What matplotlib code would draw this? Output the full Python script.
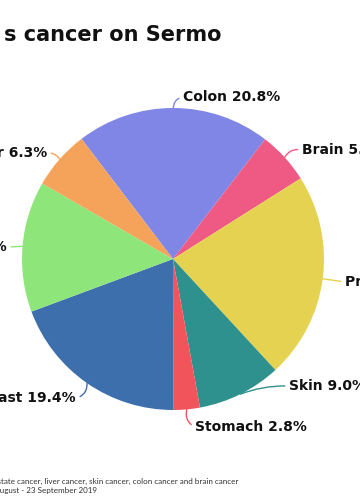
#!/usr/bin/env python
# -*- coding: utf8

from matplotlib import pyplot as plt
from matplotlib import rc

import numpy as np

cancers = ['Colon', 'Brain', 'Prostate', 'Skin', 'Stomach', 'Breast', 'Lung', 'Liver']
shares = [20.8, 5.6, 22.1, 9.0, 2.8, 19.4, 14.0, 6.3]
colors = ['#7f86e6', '#ee5a84', '#e4d250', '#2e918d', '#f2545b', '#3e6fad', '#8ee67a', '#f5a35a']

# where each label sits (pie radius units) and how it is aligned
label_pos = [(0.066, 1.073), (0.854, 0.722), (1.139, -0.152), (0.768, -0.841),
             (0.146, -1.113), (-0.642, -0.921), (-1.099, 0.079), (-0.834, 0.702)]
label_ha = ['left', 'left', 'left', 'left', 'left', 'right', 'right', 'right']
label_rad = [0.4, 0.35, 0.0, 0.1, -0.4, 0.4, 0.0, -0.3]

title = 's cancer on Sermo'
note1 = 'Prostate cancer, liver cancer, skin cancer, colon cancer and brain cancer'
note2 = '23 August - 23 September 2019'


def initialize_matplotlib():
    rc('figure', figsize=(3.6, 5.0), dpi=100)
    rc('font', family='DejaVu Sans')
    rc('savefig', dpi=100)


def main():
    initialize_matplotlib()

    fig = plt.figure()
    # pie centre at (173, 259) px, radius 151 px
    ax = fig.add_axes([22 / 360, 90 / 500, 302 / 360, 302 / 500])

    start = 127.3
    wedges, _ = ax.pie(shares, colors=colors, startangle=start,
                       counterclock=False, radius=1.0,
                       wedgeprops=dict(linewidth=0))
    ax.set_xlim(-1, 1)
    ax.set_ylim(-1, 1)
    ax.set_aspect('equal')
    ax.axis('off')

    for w, name, val, pos, ha, rad, c in zip(wedges, cancers, shares, label_pos,
                                             label_ha, label_rad, colors):
        mid = np.deg2rad((w.theta1 + w.theta2) / 2.0)
        edge = (np.cos(mid), np.sin(mid))
        rel = (0.0, 0.5) if ha == 'left' else (1.0, 0.5)
        ax.annotate('%s %.1f%%' % (name, val), xy=edge, xytext=pos,
                    ha=ha, va='center', fontsize=10, fontweight='bold',
                    color='#111111', annotation_clip=False,
                    arrowprops=dict(arrowstyle='-', color=c, lw=1.0,
                                    shrinkA=1, shrinkB=0, relpos=rel,
                                    connectionstyle='arc3,rad=%.2f' % rad))

    fig.text(221 / 360, 1 - 35 / 500, title, ha='right', va='center',
             fontsize=15, fontweight='bold', color='#111111')
    fig.text(238 / 360, 1 - 481 / 500, note1, ha='right', va='center',
             fontsize=5.8, family='Lato', color='#333333')
    fig.text(97 / 360, 1 - 490 / 500, note2, ha='right', va='center',
             fontsize=5.8, family='Lato', color='#333333')

    fig.savefig('out.png', facecolor='white')


if __name__ == '__main__':
    main()
